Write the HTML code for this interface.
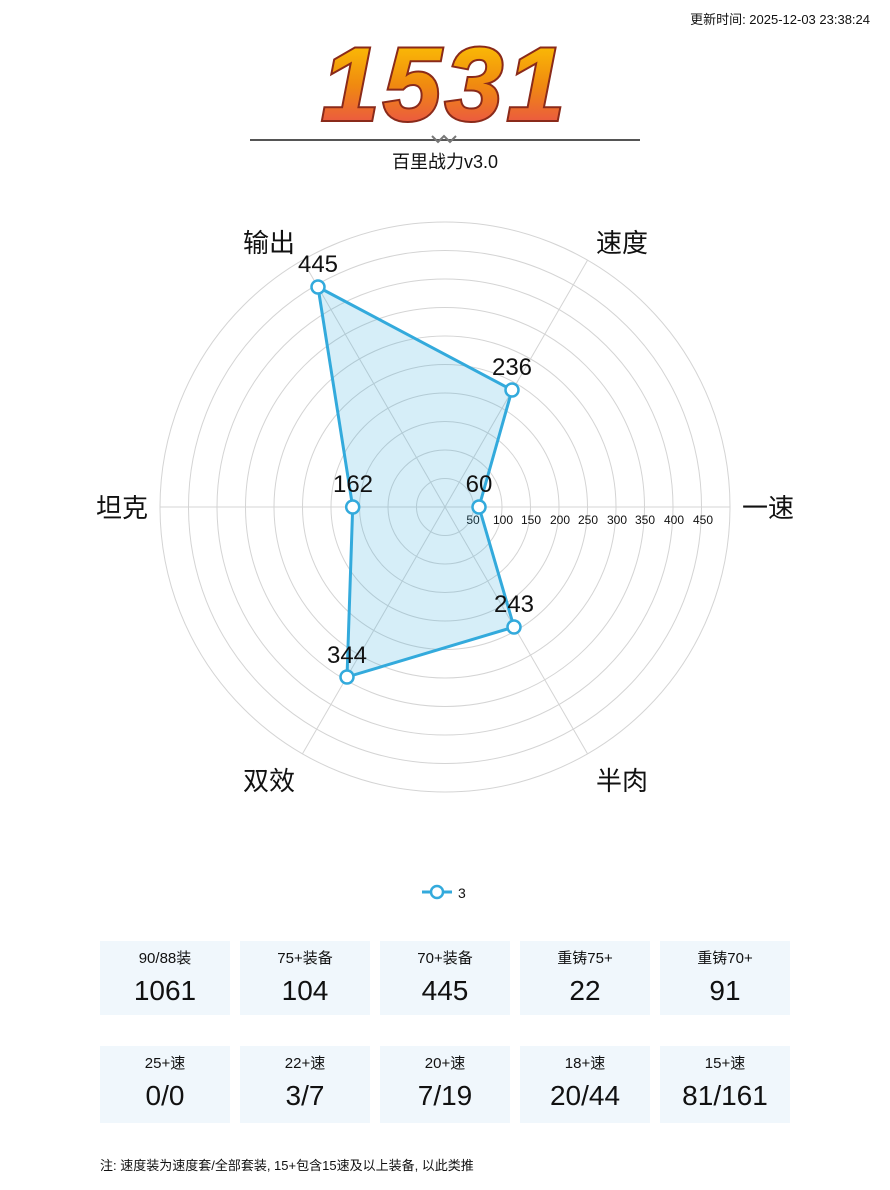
<!DOCTYPE html>
<html><head><meta charset="utf-8"><style>
body{margin:0;width:890px;height:1190px;background:#fff;font-family:"Liberation Sans","Noto Sans CJK SC",sans-serif;position:relative;overflow:hidden}
.card{position:absolute;width:130px;background:#f0f7fc;text-align:center;color:#111}
.card .t{font-size:15px;margin-top:8px;line-height:20px}
.card .v{font-size:28px;line-height:36px;margin-top:4px}
</style></head><body>
<div style="position:absolute;right:20px;top:9px;font-size:13px;color:#111">更新时间: 2025-12-03 23:38:24</div>
<svg width="890" height="1190" style="position:absolute;left:0;top:0">
<defs><linearGradient id="g" x1="0" y1="0" x2="0" y2="1"><stop offset="0" stop-color="#ffd000"/><stop offset="0.5" stop-color="#f08a10"/><stop offset="1" stop-color="#e8405a"/></linearGradient></defs>
<text x="445" y="120" text-anchor="middle" font-size="104" font-weight="bold" font-style="italic" fill="url(#g)" stroke="#8a2a1a" stroke-width="4" paint-order="stroke" font-family="Liberation Sans,sans-serif" letter-spacing="4">1531</text>
<line x1="250" y1="140" x2="640" y2="140" stroke="#555" stroke-width="2"/>
<path d="M432 136 l6 6 l6 -6 l6 6 l6 -6" stroke="#777" fill="none" stroke-width="2"/>
<text x="445" y="168" text-anchor="middle" font-size="18" fill="#111">百里战力v3.0</text>
<g fill="none" stroke="#d4d4d4" stroke-width="1">
<circle cx="445" cy="507" r="28.5"/><circle cx="445" cy="507" r="57"/><circle cx="445" cy="507" r="85.5"/><circle cx="445" cy="507" r="114"/><circle cx="445" cy="507" r="142.5"/><circle cx="445" cy="507" r="171"/><circle cx="445" cy="507" r="199.5"/><circle cx="445" cy="507" r="228"/><circle cx="445" cy="507" r="256.5"/><circle cx="445" cy="507" r="285"/>
<line x1="445" y1="507" x2="730" y2="507"/><line x1="445" y1="507" x2="160" y2="507"/>
<line x1="445" y1="507" x2="587.5" y2="260.2"/><line x1="445" y1="507" x2="302.5" y2="260.2"/>
<line x1="445" y1="507" x2="587.5" y2="753.8"/><line x1="445" y1="507" x2="302.5" y2="753.8"/>
</g>
<g font-size="12" fill="#111" text-anchor="middle">
<text x="473" y="524">50</text><text x="503" y="524">100</text><text x="531" y="524">150</text><text x="560" y="524">200</text><text x="588" y="524">250</text><text x="617" y="524">300</text><text x="645" y="524">350</text><text x="674" y="524">400</text><text x="703" y="524">450</text>
</g>
<g font-size="26" fill="#111" text-anchor="middle">
<text x="768" y="517">一速</text><text x="622" y="252">速度</text><text x="269" y="252">输出</text><text x="122" y="517">坦克</text><text x="269" y="790">双效</text><text x="622" y="790">半肉</text>
</g>
<polygon points="479,507 512,390 318,287 352.7,507 347,677 514,627" fill="rgba(52,170,220,0.2)" stroke="#33aadc" stroke-width="3" stroke-linejoin="round"/>
<g fill="#fff" stroke="#33aadc" stroke-width="2.5">
<circle cx="479" cy="507" r="6.5"/><circle cx="512" cy="390" r="6.5"/><circle cx="318" cy="287" r="6.5"/><circle cx="352.7" cy="507" r="6.5"/><circle cx="347" cy="677" r="6.5"/><circle cx="514" cy="627" r="6.5"/>
</g>
<g font-size="24" fill="#111" text-anchor="middle">
<text x="479" y="492">60</text><text x="512" y="375">236</text><text x="318" y="272">445</text><text x="353" y="492">162</text><text x="347" y="663">344</text><text x="514" y="612">243</text>
</g>
<line x1="422" y1="892" x2="452" y2="892" stroke="#33aadc" stroke-width="3"/>
<circle cx="437" cy="892" r="6" fill="#fff" stroke="#33aadc" stroke-width="2.5"/>
<text x="458" y="898" font-size="14" fill="#111">3</text>
</svg>
<div class="card" style="left:100px;top:941px;height:74px"><div class="t">90/88装</div><div class="v">1061</div></div>
<div class="card" style="left:240px;top:941px;height:74px"><div class="t">75+装备</div><div class="v">104</div></div>
<div class="card" style="left:380px;top:941px;height:74px"><div class="t">70+装备</div><div class="v">445</div></div>
<div class="card" style="left:520px;top:941px;height:74px"><div class="t">重铸75+</div><div class="v">22</div></div>
<div class="card" style="left:660px;top:941px;height:74px"><div class="t">重铸70+</div><div class="v">91</div></div>
<div class="card" style="left:100px;top:1046px;height:77px"><div class="t">25+速</div><div class="v">0/0</div></div>
<div class="card" style="left:240px;top:1046px;height:77px"><div class="t">22+速</div><div class="v">3/7</div></div>
<div class="card" style="left:380px;top:1046px;height:77px"><div class="t">20+速</div><div class="v">7/19</div></div>
<div class="card" style="left:520px;top:1046px;height:77px"><div class="t">18+速</div><div class="v">20/44</div></div>
<div class="card" style="left:660px;top:1046px;height:77px"><div class="t">15+速</div><div class="v">81/161</div></div>
<div style="position:absolute;left:100px;top:1155px;font-size:13px;color:#111">注: 速度装为速度套/全部套装, 15+包含15速及以上装备, 以此类推</div>
</body></html>
